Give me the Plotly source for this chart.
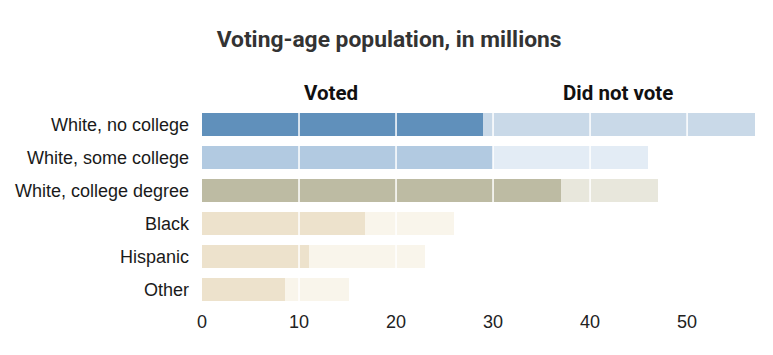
import plotly.graph_objects as go

categories = ["White, no college", "White, some college", "White, college degree",
              "Black", "Hispanic", "Other"]
voted = [29.0, 30.0, 37.0, 16.8, 11.0, 8.6]
total = [57.0, 46.0, 47.0, 26.0, 23.0, 15.2]
did_not_vote = [t - v for t, v in zip(total, voted)]
tick_vals = [0, 10, 20, 30, 40, 50]
tick_text = ["0", "10", "20", "30", "40", "50"]

voted_colors = ["#6090bb", "#b2cae1", "#bdbba3", "#ede2cc", "#ede2cc", "#ede2cc"]
not_colors = ["#c9d9e8", "#e3ecf5", "#e8e7dc", "#f9f5eb", "#f9f5eb", "#f9f5eb"]

font_main = "Liberation Sans Narrow, Roboto, Arial, sans-serif"
font_lbl = "Liberation Sans, Arial, sans-serif"

fig = go.Figure()
fig.add_trace(go.Bar(y=categories, x=voted, orientation="h", name="Voted",
                     marker=dict(color=voted_colors, line=dict(width=0)),
                     hoverinfo="x+y"))
fig.add_trace(go.Bar(y=categories, x=did_not_vote, orientation="h", name="Did not vote",
                     marker=dict(color=not_colors, line=dict(width=0)),
                     hoverinfo="x+y"))

shapes = []
for v in tick_vals[1:]:
    shapes.append(dict(type="line", xref="x", yref="paper", x0=v, x1=v, y0=0, y1=1,
                       line=dict(color="white", width=1.5), layer="above"))

fig.update_layout(
    barmode="stack",
    bargap=0.3,
    width=773, height=355,
    margin=dict(l=194, r=26, t=100, b=57),
    paper_bgcolor="white", plot_bgcolor="white",
    showlegend=False,
    shapes=shapes,
    title=dict(text="<b>Voting-age population, in millions</b>", x=0.493, xanchor="center",
               y=0.913, yanchor="middle",
               font=dict(family=font_main, size=22.8, color="#333333")),
    xaxis=dict(range=[0, 57], tickvals=tick_vals, ticktext=tick_text, showgrid=False,
               zeroline=False, showline=False, ticks="", automargin=False,
               ticklabelstandoff=3,
               tickfont=dict(family=font_lbl, size=18, color="#222222")),
    yaxis=dict(autorange="reversed", showgrid=False, zeroline=False, ticks="",
               automargin=False, ticklabelstandoff=12,
               tickfont=dict(family=font_lbl, size=18, color="#1a1a1a")),
    annotations=[
        dict(text="<b>Voted</b>", xref="x", yref="paper", x=13.3, y=1.0, yanchor="bottom",
             showarrow=False, yshift=1, font=dict(family=font_main, size=20.5, color="#111111")),
        dict(text="<b>Did not vote</b>", xref="x", yref="paper", x=42.9, y=1.0, yanchor="bottom",
             showarrow=False, yshift=1, font=dict(family=font_main, size=20.5, color="#111111")),
    ],
)

fig.write_html("out.html")
